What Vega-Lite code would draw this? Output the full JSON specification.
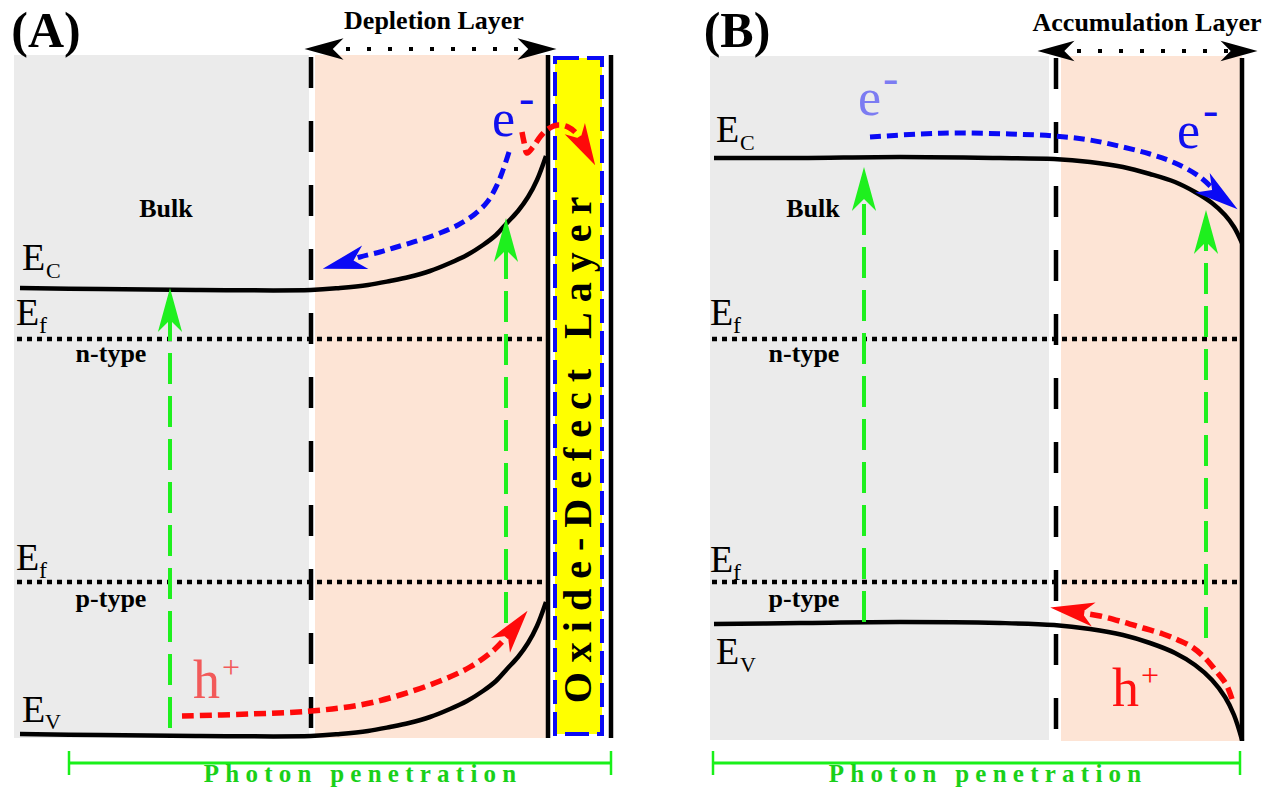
{
  "$schema": "https://vega.github.io/schema/vega-lite/v6.json",
  "width": 1271,
  "height": 793,
  "autosize": {"type": "fit", "contains": "padding"},
  "padding": 0,
  "background": "white",
  "config": {"view": {"stroke": null}},
  "datasets": {
    "rects": [
      {"x": 14, "x2": 309, "y": 55, "y2": 738, "c": "#EBEBEB"},
      {"x": 315, "x2": 548, "y": 55, "y2": 738, "c": "#FDE4D5"},
      {"x": 710, "x2": 1049, "y": 56, "y2": 740, "c": "#EBEBEB"},
      {"x": 1061, "x2": 1242, "y": 56, "y2": 741, "c": "#FDE4D5"}
    ],
    "oxide": [{"x": 555, "x2": 602, "y": 58, "y2": 734}],
    "solid": [
      {"x": 548, "y": 55, "y2": 738},
      {"x": 611, "y": 55, "y2": 738},
      {"x": 1242, "y": 58, "y2": 741}
    ],
    "dashedv": [
      {"x": 311, "y": 57, "y2": 738},
      {"x": 1056, "y": 58, "y2": 741}
    ],
    "fermi": [
      {"x": 17, "x2": 546, "y": 339},
      {"x": 17, "x2": 546, "y": 582},
      {"x": 712, "x2": 1240, "y": 339},
      {"x": 712, "x2": 1240, "y": 582}
    ],
    "greenv": [
      {"x": 170, "y": 728, "y2": 318},
      {"x": 506, "y": 623, "y2": 248},
      {"x": 864, "y": 622, "y2": 197},
      {"x": 1206, "y": 638, "y2": 240}
    ],
    "layerdots": [
      {"x": 325, "x2": 536, "y": 49},
      {"x": 1056, "x2": 1239, "y": 51}
    ],
    "photonh": [
      {"x": 69, "x2": 611, "y": 763},
      {"x": 713, "x2": 1240, "y": 763}
    ],
    "photonv": [
      {"x": 69, "y": 751, "y2": 775},
      {"x": 611, "y": 751, "y2": 775},
      {"x": 713, "y": 751, "y2": 775},
      {"x": 1240, "y": 751, "y2": 775}
    ],
    "curves": [
      {"id": "ecA", "st": "band", "i": 0, "x": 20, "y": 288},
      {"id": "ecA", "st": "band", "i": 1, "x": 100, "y": 289},
      {"id": "ecA", "st": "band", "i": 2, "x": 200, "y": 290},
      {"id": "ecA", "st": "band", "i": 3, "x": 311, "y": 290},
      {"id": "ecA", "st": "band", "i": 4, "x": 340, "y": 288},
      {"id": "ecA", "st": "band", "i": 5, "x": 368, "y": 285},
      {"id": "ecA", "st": "band", "i": 6, "x": 390, "y": 281},
      {"id": "ecA", "st": "band", "i": 7, "x": 409, "y": 277},
      {"id": "ecA", "st": "band", "i": 8, "x": 430, "y": 271},
      {"id": "ecA", "st": "band", "i": 9, "x": 450, "y": 263},
      {"id": "ecA", "st": "band", "i": 10, "x": 467, "y": 255},
      {"id": "ecA", "st": "band", "i": 11, "x": 483, "y": 245},
      {"id": "ecA", "st": "band", "i": 12, "x": 496, "y": 235},
      {"id": "ecA", "st": "band", "i": 13, "x": 507, "y": 223},
      {"id": "ecA", "st": "band", "i": 14, "x": 518, "y": 211},
      {"id": "ecA", "st": "band", "i": 15, "x": 528, "y": 197},
      {"id": "ecA", "st": "band", "i": 16, "x": 537, "y": 180},
      {"id": "ecA", "st": "band", "i": 17, "x": 546, "y": 156},
      {"id": "evA", "st": "band", "i": 0, "x": 20, "y": 734},
      {"id": "evA", "st": "band", "i": 1, "x": 100, "y": 735},
      {"id": "evA", "st": "band", "i": 2, "x": 200, "y": 736},
      {"id": "evA", "st": "band", "i": 3, "x": 311, "y": 736},
      {"id": "evA", "st": "band", "i": 4, "x": 340, "y": 734},
      {"id": "evA", "st": "band", "i": 5, "x": 368, "y": 731},
      {"id": "evA", "st": "band", "i": 6, "x": 390, "y": 727},
      {"id": "evA", "st": "band", "i": 7, "x": 409, "y": 723},
      {"id": "evA", "st": "band", "i": 8, "x": 430, "y": 717},
      {"id": "evA", "st": "band", "i": 9, "x": 450, "y": 709},
      {"id": "evA", "st": "band", "i": 10, "x": 467, "y": 701},
      {"id": "evA", "st": "band", "i": 11, "x": 483, "y": 691},
      {"id": "evA", "st": "band", "i": 12, "x": 496, "y": 681},
      {"id": "evA", "st": "band", "i": 13, "x": 507, "y": 669},
      {"id": "evA", "st": "band", "i": 14, "x": 518, "y": 657},
      {"id": "evA", "st": "band", "i": 15, "x": 528, "y": 643},
      {"id": "evA", "st": "band", "i": 16, "x": 537, "y": 626},
      {"id": "evA", "st": "band", "i": 17, "x": 546, "y": 602},
      {"id": "ecB", "st": "band", "i": 0, "x": 714, "y": 158},
      {"id": "ecB", "st": "band", "i": 1, "x": 800, "y": 158},
      {"id": "ecB", "st": "band", "i": 2, "x": 900, "y": 157},
      {"id": "ecB", "st": "band", "i": 3, "x": 1000, "y": 158},
      {"id": "ecB", "st": "band", "i": 4, "x": 1054, "y": 159},
      {"id": "ecB", "st": "band", "i": 5, "x": 1090, "y": 162},
      {"id": "ecB", "st": "band", "i": 6, "x": 1123, "y": 167},
      {"id": "ecB", "st": "band", "i": 7, "x": 1150, "y": 174},
      {"id": "ecB", "st": "band", "i": 8, "x": 1175, "y": 182},
      {"id": "ecB", "st": "band", "i": 9, "x": 1195, "y": 192},
      {"id": "ecB", "st": "band", "i": 10, "x": 1212, "y": 203},
      {"id": "ecB", "st": "band", "i": 11, "x": 1225, "y": 215},
      {"id": "ecB", "st": "band", "i": 12, "x": 1234, "y": 227},
      {"id": "ecB", "st": "band", "i": 13, "x": 1242, "y": 243},
      {"id": "evB", "st": "band", "i": 0, "x": 714, "y": 624},
      {"id": "evB", "st": "band", "i": 1, "x": 800, "y": 623},
      {"id": "evB", "st": "band", "i": 2, "x": 900, "y": 622},
      {"id": "evB", "st": "band", "i": 3, "x": 1000, "y": 623},
      {"id": "evB", "st": "band", "i": 4, "x": 1054, "y": 625},
      {"id": "evB", "st": "band", "i": 5, "x": 1090, "y": 629},
      {"id": "evB", "st": "band", "i": 6, "x": 1123, "y": 635},
      {"id": "evB", "st": "band", "i": 7, "x": 1150, "y": 643},
      {"id": "evB", "st": "band", "i": 8, "x": 1175, "y": 653},
      {"id": "evB", "st": "band", "i": 9, "x": 1195, "y": 665},
      {"id": "evB", "st": "band", "i": 10, "x": 1212, "y": 680},
      {"id": "evB", "st": "band", "i": 11, "x": 1225, "y": 697},
      {"id": "evB", "st": "band", "i": 12, "x": 1234, "y": 715},
      {"id": "evB", "st": "band", "i": 13, "x": 1242, "y": 740},
      {"id": "bA", "st": "blue", "i": 0, "x": 509, "y": 152},
      {"id": "bA", "st": "blue", "i": 1, "x": 503, "y": 170},
      {"id": "bA", "st": "blue", "i": 2, "x": 497, "y": 185},
      {"id": "bA", "st": "blue", "i": 3, "x": 488, "y": 201},
      {"id": "bA", "st": "blue", "i": 4, "x": 475, "y": 214},
      {"id": "bA", "st": "blue", "i": 5, "x": 458, "y": 225},
      {"id": "bA", "st": "blue", "i": 6, "x": 440, "y": 233},
      {"id": "bA", "st": "blue", "i": 7, "x": 420, "y": 240},
      {"id": "bA", "st": "blue", "i": 8, "x": 400, "y": 246},
      {"id": "bA", "st": "blue", "i": 9, "x": 380, "y": 252},
      {"id": "bA", "st": "blue", "i": 10, "x": 360, "y": 257},
      {"id": "bA", "st": "blue", "i": 11, "x": 343, "y": 263},
      {"id": "bB", "st": "blue", "i": 0, "x": 870, "y": 137},
      {"id": "bB", "st": "blue", "i": 1, "x": 920, "y": 134},
      {"id": "bB", "st": "blue", "i": 2, "x": 961, "y": 133},
      {"id": "bB", "st": "blue", "i": 3, "x": 1010, "y": 134},
      {"id": "bB", "st": "blue", "i": 4, "x": 1054, "y": 136},
      {"id": "bB", "st": "blue", "i": 5, "x": 1090, "y": 140},
      {"id": "bB", "st": "blue", "i": 6, "x": 1123, "y": 147},
      {"id": "bB", "st": "blue", "i": 7, "x": 1150, "y": 154},
      {"id": "bB", "st": "blue", "i": 8, "x": 1175, "y": 163},
      {"id": "bB", "st": "blue", "i": 9, "x": 1200, "y": 177},
      {"id": "bB", "st": "blue", "i": 10, "x": 1219, "y": 195},
      {"id": "rA1", "st": "red", "i": 0, "x": 522, "y": 132},
      {"id": "rA1", "st": "red", "i": 1, "x": 524, "y": 142},
      {"id": "rA1", "st": "red", "i": 2, "x": 527, "y": 153},
      {"id": "rA1", "st": "red", "i": 3, "x": 533, "y": 147},
      {"id": "rA1", "st": "red", "i": 4, "x": 540, "y": 137},
      {"id": "rA1", "st": "red", "i": 5, "x": 548, "y": 129},
      {"id": "rA1", "st": "red", "i": 6, "x": 558, "y": 125},
      {"id": "rA1", "st": "red", "i": 7, "x": 568, "y": 127},
      {"id": "rA1", "st": "red", "i": 8, "x": 577, "y": 134},
      {"id": "rA1", "st": "red", "i": 9, "x": 585, "y": 147},
      {"id": "rA2", "st": "red", "i": 0, "x": 182, "y": 716},
      {"id": "rA2", "st": "red", "i": 1, "x": 250, "y": 714},
      {"id": "rA2", "st": "red", "i": 2, "x": 311, "y": 711},
      {"id": "rA2", "st": "red", "i": 3, "x": 360, "y": 705},
      {"id": "rA2", "st": "red", "i": 4, "x": 400, "y": 695},
      {"id": "rA2", "st": "red", "i": 5, "x": 440, "y": 681},
      {"id": "rA2", "st": "red", "i": 6, "x": 470, "y": 667},
      {"id": "rA2", "st": "red", "i": 7, "x": 495, "y": 649},
      {"id": "rA2", "st": "red", "i": 8, "x": 513, "y": 629},
      {"id": "rB", "st": "red", "i": 0, "x": 1232, "y": 699},
      {"id": "rB", "st": "red", "i": 1, "x": 1226, "y": 684},
      {"id": "rB", "st": "red", "i": 2, "x": 1216, "y": 671},
      {"id": "rB", "st": "red", "i": 3, "x": 1205, "y": 658},
      {"id": "rB", "st": "red", "i": 4, "x": 1192, "y": 647},
      {"id": "rB", "st": "red", "i": 5, "x": 1178, "y": 640},
      {"id": "rB", "st": "red", "i": 6, "x": 1163, "y": 634},
      {"id": "rB", "st": "red", "i": 7, "x": 1143, "y": 628},
      {"id": "rB", "st": "red", "i": 8, "x": 1123, "y": 622},
      {"id": "rB", "st": "red", "i": 9, "x": 1100, "y": 616},
      {"id": "rB", "st": "red", "i": 10, "x": 1074, "y": 612}
    ],
    "heads": [
      {"x": 324, "y": 49, "a": 270, "s": 1521, "c": "#000000"},
      {"x": 537, "y": 49, "a": 90, "s": 1521, "c": "#000000"},
      {"x": 1056, "y": 51, "a": 270, "s": 1369, "c": "#000000"},
      {"x": 1239, "y": 51, "a": 90, "s": 1369, "c": "#000000"},
      {"x": 170, "y": 310, "a": 0, "s": 1936, "c": "#1EF01E"},
      {"x": 506, "y": 240, "a": 0, "s": 1936, "c": "#1EF01E"},
      {"x": 864, "y": 189, "a": 0, "s": 1936, "c": "#1EF01E"},
      {"x": 1206, "y": 232, "a": 0, "s": 1936, "c": "#1EF01E"},
      {"x": 344, "y": 263, "a": 255, "s": 1936, "c": "#0A0AF5"},
      {"x": 1220, "y": 196, "a": 127, "s": 1936, "c": "#0A0AF5"},
      {"x": 514, "y": 628, "a": 38, "s": 1936, "c": "#FF0A0A"},
      {"x": 585, "y": 147, "a": 151, "s": 1764, "c": "#FF0A0A"},
      {"x": 1072, "y": 611, "a": 279, "s": 1936, "c": "#FF0A0A"}
    ],
    "tnorm": [
      {"t": "E", "x": 22, "y": 270, "s": 38, "c": "#000000"},
      {"t": "C", "x": 46, "y": 278, "s": 22, "c": "#000000"},
      {"t": "E", "x": 16, "y": 325, "s": 38, "c": "#000000"},
      {"t": "f", "x": 39, "y": 333, "s": 24, "c": "#000000"},
      {"t": "E", "x": 16, "y": 570, "s": 38, "c": "#000000"},
      {"t": "f", "x": 39, "y": 578, "s": 24, "c": "#000000"},
      {"t": "E", "x": 22, "y": 722, "s": 38, "c": "#000000"},
      {"t": "V", "x": 45, "y": 729, "s": 22, "c": "#000000"},
      {"t": "E", "x": 716, "y": 142, "s": 38, "c": "#000000"},
      {"t": "C", "x": 740, "y": 150, "s": 22, "c": "#000000"},
      {"t": "E", "x": 710, "y": 325, "s": 38, "c": "#000000"},
      {"t": "f", "x": 733, "y": 333, "s": 24, "c": "#000000"},
      {"t": "E", "x": 710, "y": 572, "s": 38, "c": "#000000"},
      {"t": "f", "x": 733, "y": 580, "s": 24, "c": "#000000"},
      {"t": "E", "x": 716, "y": 664, "s": 38, "c": "#000000"},
      {"t": "V", "x": 740, "y": 672, "s": 22, "c": "#000000"},
      {"t": "e", "x": 492, "y": 136, "s": 52, "c": "#1010EE"},
      {"t": "-", "x": 519, "y": 113, "s": 46, "c": "#1010EE"},
      {"t": "h", "x": 193, "y": 698, "s": 54, "c": "#F25A5A"},
      {"t": "+", "x": 222, "y": 678, "s": 32, "c": "#F25A5A"},
      {"t": "e", "x": 858, "y": 115, "s": 52, "c": "#7C7CF2"},
      {"t": "-", "x": 883, "y": 93, "s": 46, "c": "#7C7CF2"},
      {"t": "e", "x": 1177, "y": 148, "s": 52, "c": "#1010EE"},
      {"t": "-", "x": 1203, "y": 125, "s": 46, "c": "#1010EE"},
      {"t": "h", "x": 1112, "y": 706, "s": 54, "c": "#FF1010"},
      {"t": "+", "x": 1141, "y": 686, "s": 32, "c": "#FF1010"}
    ],
    "tbold": [
      {"t": "(A)", "x": 46, "y": 47, "s": 50, "c": "#000000"},
      {"t": "(B)", "x": 737, "y": 47, "s": 50, "c": "#000000"},
      {"t": "Depletion Layer", "x": 434, "y": 29, "s": 26, "c": "#000000"},
      {"t": "Accumulation Layer", "x": 1147, "y": 31, "s": 26, "c": "#000000"},
      {"t": "Bulk", "x": 166, "y": 217, "s": 26, "c": "#000000"},
      {"t": "Bulk", "x": 813, "y": 217, "s": 26, "c": "#000000"},
      {"t": "n-type", "x": 111, "y": 362, "s": 26, "c": "#000000"},
      {"t": "p-type", "x": 111, "y": 607, "s": 26, "c": "#000000"},
      {"t": "n-type", "x": 804, "y": 362, "s": 26, "c": "#000000"},
      {"t": "p-type", "x": 804, "y": 607, "s": 26, "c": "#000000"},
      {"t": "P\u00a0h\u00a0o\u00a0t\u00a0o\u00a0n\u00a0\u00a0\u00a0p\u00a0e\u00a0n\u00a0e\u00a0t\u00a0r\u00a0a\u00a0t\u00a0i\u00a0o\u00a0n", "x": 360, "y": 782, "s": 25, "c": "#19D019"},
      {"t": "P\u00a0h\u00a0o\u00a0t\u00a0o\u00a0n\u00a0\u00a0\u00a0p\u00a0e\u00a0n\u00a0e\u00a0t\u00a0r\u00a0a\u00a0t\u00a0i\u00a0o\u00a0n", "x": 985, "y": 782, "s": 25, "c": "#19D019"}
    ],
    "trot": [
      {"t": "O\u00a0x\u00a0i\u00a0d\u00a0e\u00a0-\u00a0D\u00a0e\u00a0f\u00a0e\u00a0c\u00a0t\u00a0\u00a0\u00a0L\u00a0a\u00a0y\u00a0e\u00a0r", "x": 579, "y": 450}
    ]
  },
  "encoding": {
    "x": {"field": "x", "type": "quantitative", "scale": {"domain": [0, 1271], "nice": false, "zero": false}, "axis": null},
    "y": {"field": "y", "type": "quantitative", "scale": {"domain": [0, 793], "nice": false, "zero": false, "reverse": true}, "axis": null}
  },
  "layer": [
    {
      "data": {"name": "rects"},
      "mark": {"type": "rect", "strokeWidth": 0},
      "encoding": {
        "x2": {"field": "x2"},
        "y2": {"field": "y2"},
        "color": {"field": "c", "type": "nominal", "scale": null}
      }
    },
    {
      "data": {"name": "oxide"},
      "mark": {"type": "rect", "fill": "#FFFF00", "stroke": "#0A0AF5", "strokeWidth": 4, "strokeDash": [24, 8]},
      "encoding": {"x2": {"field": "x2"}, "y2": {"field": "y2"}}
    },
    {
      "data": {"name": "fermi"},
      "mark": {"type": "rule", "color": "black", "strokeWidth": 4.5, "strokeDash": [5, 5]},
      "encoding": {"x2": {"field": "x2"}}
    },
    {
      "data": {"name": "dashedv"},
      "mark": {"type": "rule", "color": "black", "strokeWidth": 4.5, "strokeDash": [31, 33]},
      "encoding": {"y2": {"field": "y2"}}
    },
    {
      "data": {"name": "solid"},
      "mark": {"type": "rule", "color": "black", "strokeWidth": 4.5},
      "encoding": {"y2": {"field": "y2"}}
    },
    {
      "data": {"name": "curves"},
      "transform": [{"filter": "datum.st === 'band'"}],
      "mark": {"type": "line", "color": "black", "strokeWidth": 4.5, "interpolate": "catmull-rom"},
      "encoding": {"detail": {"field": "id", "type": "nominal"}, "order": {"field": "i", "type": "quantitative"}}
    },
    {
      "data": {"name": "greenv"},
      "mark": {"type": "rule", "color": "#1EF01E", "strokeWidth": 4, "strokeDash": [31, 12]},
      "encoding": {"y2": {"field": "y2"}}
    },
    {
      "data": {"name": "curves"},
      "transform": [{"filter": "datum.st === 'blue'"}],
      "mark": {"type": "line", "color": "#0A0AF5", "strokeWidth": 5, "strokeDash": [11, 6], "interpolate": "catmull-rom"},
      "encoding": {"detail": {"field": "id", "type": "nominal"}, "order": {"field": "i", "type": "quantitative"}}
    },
    {
      "data": {"name": "curves"},
      "transform": [{"filter": "datum.st === 'red'"}],
      "mark": {"type": "line", "color": "#FF0A0A", "strokeWidth": 5.5, "strokeDash": [12, 6], "interpolate": "catmull-rom"},
      "encoding": {"detail": {"field": "id", "type": "nominal"}, "order": {"field": "i", "type": "quantitative"}}
    },
    {
      "data": {"name": "layerdots"},
      "mark": {"type": "rule", "color": "black", "strokeWidth": 4, "strokeDash": [4, 17]},
      "encoding": {"x2": {"field": "x2"}}
    },
    {
      "data": {"name": "heads"},
      "mark": {"type": "point", "shape": "M0,-1L0.55,1L0,0.45L-0.55,1Z", "filled": true, "opacity": 1, "strokeWidth": 0},
      "encoding": {
        "size": {"field": "s", "type": "quantitative", "scale": null},
        "angle": {"field": "a", "type": "quantitative", "scale": null},
        "color": {"field": "c", "type": "nominal", "scale": null}
      }
    },
    {
      "data": {"name": "photonh"},
      "mark": {"type": "rule", "color": "#19F019", "strokeWidth": 3},
      "encoding": {"x2": {"field": "x2"}}
    },
    {
      "data": {"name": "photonv"},
      "mark": {"type": "rule", "color": "#19F019", "strokeWidth": 2.5},
      "encoding": {"y2": {"field": "y2"}}
    },
    {
      "data": {"name": "tnorm"},
      "mark": {"type": "text", "font": "Liberation Serif", "align": "left", "baseline": "alphabetic"},
      "encoding": {
        "text": {"field": "t"},
        "size": {"field": "s", "type": "quantitative", "scale": null},
        "color": {"field": "c", "type": "nominal", "scale": null}
      }
    },
    {
      "data": {"name": "tbold"},
      "mark": {"type": "text", "font": "Liberation Serif", "fontWeight": "bold", "align": "center", "baseline": "alphabetic"},
      "encoding": {
        "text": {"field": "t"},
        "size": {"field": "s", "type": "quantitative", "scale": null},
        "color": {"field": "c", "type": "nominal", "scale": null}
      }
    },
    {
      "data": {"name": "trot"},
      "mark": {"type": "text", "font": "Liberation Serif", "fontWeight": "bold", "fontSize": 40, "angle": 270, "align": "center", "baseline": "middle", "color": "black"},
      "encoding": {"text": {"field": "t"}}
    }
  ]
}
